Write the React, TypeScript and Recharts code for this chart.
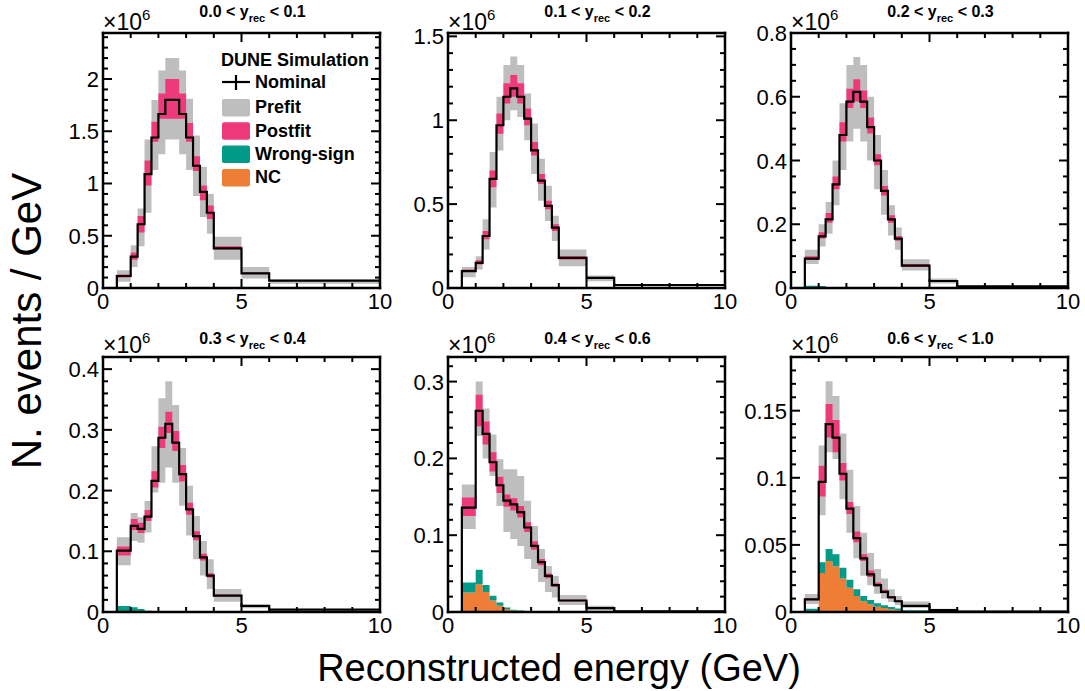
import React from "react";
import { ComposedChart, Area, Line, XAxis, YAxis } from "recharts";

// ---------- shared binning (GeV) ----------
const BIN_EDGES = [0, 0.5, 1.0, 1.25, 1.5, 1.75, 2.0, 2.25, 2.5, 2.75, 3.0, 3.25, 3.5, 3.75, 4.0, 5, 6, 10];
const X_TICKS = [0, 1, 2, 3, 4, 5, 6, 7, 8, 9, 10];
const X_MAJOR_STEP = 5;

// ---------- panel 1 : 0.0 < y < 0.1 (x10^6) ----------
const TITLE_1 = ["0.0", "0.1"];
const NOMINAL_1 = [0, 0.115, 0.30, 0.61, 1.09, 1.44, 1.665, 1.80, 1.80, 1.665, 1.44, 1.17, 0.92, 0.72, 0.38, 0.14, 0.07];
const PRE_LO_1 = [0, 0.06, 0.20, 0.40, 0.72, 1.13, 1.28, 1.42, 1.42, 1.28, 1.13, 0.88, 0.68, 0.52, 0.27, 0.09, 0.04];
const PRE_HI_1 = [0, 0.17, 0.41, 0.76, 1.42, 1.80, 2.08, 2.20, 2.20, 2.08, 1.81, 1.46, 1.16, 0.90, 0.49, 0.20, 0.08];
const POST_LO_1 = [0, 0.10, 0.27, 0.53, 0.98, 1.40, 1.62, 1.62, 1.62, 1.62, 1.40, 1.12, 0.84, 0.66, 0.37, 0.135, 0.068];
const POST_HI_1 = [0, 0.13, 0.34, 0.69, 1.22, 1.59, 1.86, 2.00, 2.00, 1.86, 1.58, 1.26, 0.98, 0.79, 0.40, 0.15, 0.072];
const NC_1 = [0, 0, 0, 0, 0, 0, 0, 0, 0, 0, 0, 0, 0, 0, 0, 0, 0];
const WS_1 = [0, 0.01, 0.005, 0, 0, 0, 0, 0, 0, 0, 0, 0, 0, 0, 0, 0, 0];

// ---------- panel 2 : 0.1 < y < 0.2 ----------
const TITLE_2 = ["0.1", "0.2"];
const NOMINAL_2 = [0, 0.10, 0.15, 0.31, 0.65, 0.97, 1.14, 1.19, 1.14, 1.01, 0.82, 0.64, 0.49, 0.36, 0.18, 0.06, 0.018];
const PRE_LO_2 = [0, 0.064, 0.11, 0.23, 0.48, 0.82, 1.00, 1.06, 1.02, 0.88, 0.68, 0.52, 0.40, 0.28, 0.13, 0.04, 0.01];
const PRE_HI_2 = [0, 0.125, 0.19, 0.41, 0.81, 1.14, 1.33, 1.38, 1.33, 1.16, 0.98, 0.77, 0.61, 0.43, 0.23, 0.075, 0.022];
const POST_LO_2 = [0, 0.095, 0.14, 0.29, 0.60, 0.92, 1.10, 1.14, 1.10, 0.97, 0.79, 0.62, 0.47, 0.34, 0.17, 0.057, 0.017];
const POST_HI_2 = [0, 0.11, 0.165, 0.34, 0.70, 1.04, 1.22, 1.27, 1.22, 1.07, 0.87, 0.68, 0.52, 0.38, 0.19, 0.063, 0.019];
const NC_2 = [0, 0, 0, 0, 0, 0, 0, 0, 0, 0, 0, 0, 0, 0, 0, 0, 0];
const WS_2 = [0, 0.006, 0.004, 0, 0, 0, 0, 0, 0, 0, 0, 0, 0, 0, 0, 0, 0];

// ---------- panel 3 : 0.2 < y < 0.3 ----------
const TITLE_3 = ["0.2", "0.3"];
const NOMINAL_3 = [0, 0.092, 0.162, 0.215, 0.325, 0.48, 0.585, 0.615, 0.585, 0.505, 0.40, 0.305, 0.215, 0.155, 0.07, 0.022, 0.005];
const PRE_LO_3 = [0, 0.075, 0.13, 0.17, 0.26, 0.37, 0.46, 0.50, 0.46, 0.40, 0.31, 0.23, 0.165, 0.12, 0.055, 0.014, 0.003];
const PRE_HI_3 = [0, 0.12, 0.20, 0.27, 0.40, 0.58, 0.70, 0.725, 0.70, 0.60, 0.48, 0.37, 0.26, 0.19, 0.09, 0.03, 0.007];
const POST_LO_3 = [0, 0.088, 0.155, 0.205, 0.31, 0.46, 0.565, 0.585, 0.565, 0.485, 0.385, 0.29, 0.205, 0.148, 0.067, 0.021, 0.0045];
const POST_HI_3 = [0, 0.10, 0.175, 0.235, 0.35, 0.52, 0.625, 0.655, 0.62, 0.535, 0.42, 0.32, 0.228, 0.163, 0.075, 0.023, 0.0055];
const NC_3 = [0, 0, 0, 0, 0, 0, 0, 0, 0, 0, 0, 0, 0, 0, 0, 0, 0];
const WS_3 = [0, 0.007, 0.006, 0.003, 0.001, 0, 0, 0, 0, 0, 0, 0, 0, 0, 0, 0, 0];

// ---------- panel 4 : 0.3 < y < 0.4 ----------
const TITLE_4 = ["0.3", "0.4"];
const NOMINAL_4 = [0, 0.101, 0.142, 0.137, 0.157, 0.216, 0.287, 0.31, 0.279, 0.227, 0.169, 0.125, 0.09, 0.06, 0.027, 0.01, 0.004];
const PRE_LO_4 = [0, 0.077, 0.117, 0.114, 0.131, 0.197, 0.213, 0.238, 0.213, 0.175, 0.126, 0.087, 0.06, 0.038, 0.017, 0.006, 0.003];
const PRE_HI_4 = [0, 0.123, 0.163, 0.156, 0.183, 0.273, 0.352, 0.38, 0.341, 0.27, 0.208, 0.158, 0.117, 0.087, 0.038, 0.012, 0.005];
const POST_LO_4 = [0, 0.093, 0.135, 0.130, 0.150, 0.205, 0.270, 0.295, 0.265, 0.215, 0.160, 0.118, 0.085, 0.057, 0.026, 0.0095, 0.0038];
const POST_HI_4 = [0, 0.108, 0.153, 0.147, 0.168, 0.232, 0.305, 0.33, 0.298, 0.242, 0.18, 0.133, 0.096, 0.064, 0.029, 0.011, 0.0043];
const NC_4 = [0, 0, 0, 0, 0, 0, 0, 0, 0, 0, 0, 0, 0, 0, 0, 0, 0];
const WS_4 = [0, 0.010, 0.008, 0.005, 0.002, 0.001, 0.0005, 0, 0, 0, 0, 0, 0, 0, 0, 0, 0];

// ---------- panel 5 : 0.4 < y < 0.6 ----------
const TITLE_5 = ["0.4", "0.6"];
const NOMINAL_5 = [0, 0.136, 0.262, 0.232, 0.195, 0.165, 0.145, 0.140, 0.130, 0.110, 0.086, 0.065, 0.047, 0.035, 0.015, 0.005, 0.001];
const PRE_LO_5 = [0, 0.108, 0.229, 0.20, 0.177, 0.138, 0.104, 0.095, 0.086, 0.069, 0.056, 0.039, 0.026, 0.019, 0.009, 0.002, 0.0005];
const PRE_HI_5 = [0, 0.166, 0.30, 0.265, 0.231, 0.199, 0.186, 0.186, 0.177, 0.145, 0.112, 0.082, 0.06, 0.047, 0.022, 0.008, 0.002];
const POST_LO_5 = [0, 0.125, 0.242, 0.218, 0.183, 0.155, 0.137, 0.132, 0.123, 0.104, 0.081, 0.061, 0.044, 0.033, 0.014, 0.0045, 0.0009];
const POST_HI_5 = [0, 0.149, 0.283, 0.248, 0.208, 0.176, 0.153, 0.148, 0.138, 0.117, 0.092, 0.069, 0.050, 0.037, 0.016, 0.0055, 0.0011];
const NC_5 = [0, 0.0255, 0.036, 0.026, 0.015, 0.008, 0.004, 0.002, 0.001, 0.0005, 0, 0, 0, 0, 0, 0, 0];
const WS_5 = [0, 0.013, 0.019, 0.009, 0.006, 0.0045, 0.002, 0.001, 0.0008, 0.0004, 0.0002, 0, 0, 0, 0, 0, 0];

// ---------- panel 6 : 0.6 < y < 1.0 ----------
const TITLE_6 = ["0.6", "1.0"];
const NOMINAL_6 = [0, 0.0094, 0.097, 0.140, 0.130, 0.103, 0.077, 0.055, 0.040, 0.028, 0.020, 0.015, 0.011, 0.008, 0.0045, 0.0015, 0.0003];
const PRE_LO_6 = [0, 0.006, 0.072, 0.119, 0.114, 0.084, 0.059, 0.040, 0.027, 0.020, 0.0136, 0.010, 0.0074, 0.005, 0.003, 0.0008, 0.0001];
const PRE_HI_6 = [0, 0.0135, 0.124, 0.172, 0.161, 0.133, 0.106, 0.079, 0.059, 0.044, 0.032, 0.025, 0.017, 0.012, 0.0079, 0.0025, 0.0005];
const POST_LO_6 = [0, 0.0088, 0.086, 0.130, 0.119, 0.098, 0.073, 0.052, 0.038, 0.026, 0.019, 0.014, 0.010, 0.0075, 0.0042, 0.0014, 0.00028];
const POST_HI_6 = [0, 0.0100, 0.109, 0.155, 0.143, 0.111, 0.082, 0.060, 0.043, 0.031, 0.022, 0.0165, 0.012, 0.0088, 0.0049, 0.0017, 0.00035];
const NC_6 = [0, 0, 0.029, 0.038, 0.034, 0.025, 0.018, 0.012, 0.008, 0.0055, 0.004, 0.003, 0.002, 0.0015, 0.0008, 0.0008, 0];
const WS_6 = [0, 0.0025, 0.008, 0.009, 0.009, 0.008, 0.006, 0.005, 0.004, 0.0035, 0.0025, 0.002, 0.0017, 0.0012, 0.0005, 0.0001, 0];

// ---------- axis settings per panel: [max, major step, minor step] ----------
const Y_AXIS_1 = [2.44, 0.5, 0.1];
const Y_AXIS_2 = [1.52, 0.5, 0.1];
const Y_AXIS_3 = [0.8, 0.2, 0.05];
const Y_AXIS_4 = [0.42, 0.1, 0.02];
const Y_AXIS_5 = [0.332, 0.1, 0.02];
const Y_AXIS_6 = [0.19, 0.05, 0.01];

// ---------- legend ----------
const LEGEND_HEADER = "DUNE Simulation";
const LEGEND_LABELS = ["Nominal", "Prefit", "Postfit", "Wrong-sign", "NC"];

// ---------- styles ----------
const FONT = '"Liberation Sans", Arial, Helvetica, sans-serif';
const C_PRE = "#bebebe";
const C_POST = "#ee3a7a";
const C_WS = "#009a88";
const C_NC = "#ee7e36";

const COL_LEFT = [103, 448, 791];
const ROW_TOP = [33, 357];
const PLOT_W = 277;
const PLOT_H = 255;
const Y_AXIS_W = 60;
const R_AXIS_W = 16;
const X_AXIS_H = 30;

type PanelDef = {
  title: string[];
  nominal: number[];
  preLo: number[];
  preHi: number[];
  postLo: number[];
  postHi: number[];
  nc: number[];
  ws: number[];
  yAxis: number[];
};

const PANELS: PanelDef[] = [
  { title: TITLE_1, nominal: NOMINAL_1, preLo: PRE_LO_1, preHi: PRE_HI_1, postLo: POST_LO_1, postHi: POST_HI_1, nc: NC_1, ws: WS_1, yAxis: Y_AXIS_1 },
  { title: TITLE_2, nominal: NOMINAL_2, preLo: PRE_LO_2, preHi: PRE_HI_2, postLo: POST_LO_2, postHi: POST_HI_2, nc: NC_2, ws: WS_2, yAxis: Y_AXIS_2 },
  { title: TITLE_3, nominal: NOMINAL_3, preLo: PRE_LO_3, preHi: PRE_HI_3, postLo: POST_LO_3, postHi: POST_HI_3, nc: NC_3, ws: WS_3, yAxis: Y_AXIS_3 },
  { title: TITLE_4, nominal: NOMINAL_4, preLo: PRE_LO_4, preHi: PRE_HI_4, postLo: POST_LO_4, postHi: POST_HI_4, nc: NC_4, ws: WS_4, yAxis: Y_AXIS_4 },
  { title: TITLE_5, nominal: NOMINAL_5, preLo: PRE_LO_5, preHi: PRE_HI_5, postLo: POST_LO_5, postHi: POST_HI_5, nc: NC_5, ws: WS_5, yAxis: Y_AXIS_5 },
  { title: TITLE_6, nominal: NOMINAL_6, preLo: PRE_LO_6, preHi: PRE_HI_6, postLo: POST_LO_6, postHi: POST_HI_6, nc: NC_6, ws: WS_6, yAxis: Y_AXIS_6 },
];

function buildRows(p: PanelDef) {
  const rows: any[] = [];
  const nBins = p.nominal.length;
  for (let i = 0; i < BIN_EDGES.length; i++) {
    const j = Math.min(i, nBins - 1);
    rows.push({
      x: BIN_EDGES[i],
      nom: p.nominal[j],
      pre: [p.preLo[j], p.preHi[j]],
      post: [p.postLo[j], p.postHi[j]],
      nc: p.nc[j],
      ws: p.ws[j],
    });
  }
  return rows;
}

function tickList(step: number, max: number) {
  const out: number[] = [];
  for (let k = 0; k * step <= max + 1e-9; k++) out.push(Number((k * step).toFixed(5)));
  return out;
}

const isMultiple = (v: number, step: number) => Math.abs(v / step - Math.round(v / step)) < 1e-6;
const fmt = (v: number) => String(Number(v.toFixed(4)));

const MAJOR_LEN = 9;
const MINOR_LEN = 5;

const BottomTick = (props: any) => {
  const { x, y, payload } = props;
  const v = payload.value;
  const major = isMultiple(v, X_MAJOR_STEP);
  return (
    <g>
      <line x1={x} x2={x} y1={y} y2={y - (major ? MAJOR_LEN : MINOR_LEN)} stroke="#000" strokeWidth={2} />
      {major && (
        <text x={x} y={y + 21} textAnchor="middle" fontSize={22} fontFamily={FONT} fill="#000">
          {fmt(v)}
        </text>
      )}
    </g>
  );
};

const TopTick = (props: any) => {
  const { x, y, payload } = props;
  const major = isMultiple(payload.value, X_MAJOR_STEP);
  return <line x1={x} x2={x} y1={y} y2={y + (major ? MAJOR_LEN : MINOR_LEN)} stroke="#000" strokeWidth={2} />;
};

const makeLeftTick = (majorStep: number) => (props: any) => {
  const { x, y, payload } = props;
  const v = payload.value;
  const major = isMultiple(v, majorStep);
  return (
    <g>
      <line x1={x} x2={x + (major ? MAJOR_LEN : MINOR_LEN)} y1={y} y2={y} stroke="#000" strokeWidth={2} />
      {major && (
        <text x={x - 4} y={y + 8} textAnchor="end" fontSize={22} fontFamily={FONT} fill="#000">
          {fmt(v)}
        </text>
      )}
    </g>
  );
};

const makeRightTick = (majorStep: number) => (props: any) => {
  const { x, y, payload } = props;
  const major = isMultiple(payload.value, majorStep);
  return <line x1={x} x2={x - (major ? MAJOR_LEN : MINOR_LEN)} y1={y} y2={y} stroke="#000" strokeWidth={2} />;
};

const AXIS_LINE = { stroke: "#000", strokeWidth: 2.5, strokeLinecap: "square" as const };

function Panel({ p, idx }: { p: PanelDef; idx: number }) {
  const col = idx % 3;
  const row = Math.floor(idx / 3);
  const left = COL_LEFT[col];
  const top = ROW_TOP[row];
  const [yMax, yMajor, yMinor] = p.yAxis;
  const yTicks = tickList(yMinor, yMax);
  const rows = buildRows(p);
  return (
    <div style={{ position: "absolute", left: left - Y_AXIS_W, top: top - X_AXIS_H }}>
      <ComposedChart
        width={PLOT_W + Y_AXIS_W + R_AXIS_W}
        height={PLOT_H + 2 * X_AXIS_H}
        data={rows}
        margin={{ top: 0, right: 0, bottom: 0, left: 0 }}
        style={{ overflow: "visible" }}
      >
        <XAxis
          xAxisId="b"
          dataKey="x"
          type="number"
          domain={[0, 10]}
          ticks={X_TICKS}
          interval={0}
          allowDataOverflow
          tickSize={0}
          tickMargin={0}
          tickLine={false}
          axisLine={AXIS_LINE}
          tick={BottomTick}
          height={X_AXIS_H}
        />
        <XAxis
          xAxisId="t"
          orientation="top"
          dataKey="x"
          type="number"
          domain={[0, 10]}
          ticks={X_TICKS}
          interval={0}
          allowDataOverflow
          tickSize={0}
          tickMargin={0}
          tickLine={false}
          axisLine={AXIS_LINE}
          tick={TopTick}
          height={X_AXIS_H}
        />
        <YAxis
          yAxisId="l"
          type="number"
          domain={[0, yMax]}
          ticks={yTicks}
          interval={0}
          allowDataOverflow
          tickSize={0}
          tickMargin={0}
          tickLine={false}
          axisLine={AXIS_LINE}
          tick={makeLeftTick(yMajor)}
          width={Y_AXIS_W}
        />
        <YAxis
          yAxisId="r"
          orientation="right"
          type="number"
          domain={[0, yMax]}
          ticks={yTicks}
          interval={0}
          allowDataOverflow
          tickSize={0}
          tickMargin={0}
          tickLine={false}
          axisLine={AXIS_LINE}
          tick={makeRightTick(yMajor)}
          width={R_AXIS_W}
        />
        <Area
          xAxisId="b"
          yAxisId="l"
          type="stepAfter"
          dataKey="pre"
          fill={C_PRE}
          fillOpacity={1}
          stroke="none"
          dot={false}
          activeDot={false}
          isAnimationActive={false}
        />
        <Area
          xAxisId="b"
          yAxisId="l"
          type="stepAfter"
          dataKey="post"
          fill={C_POST}
          fillOpacity={1}
          stroke="none"
          dot={false}
          activeDot={false}
          isAnimationActive={false}
        />
        <Area
          xAxisId="b"
          yAxisId="l"
          type="stepAfter"
          dataKey="nc"
          stackId="bkg"
          fill={C_NC}
          fillOpacity={1}
          stroke="none"
          dot={false}
          activeDot={false}
          isAnimationActive={false}
        />
        <Area
          xAxisId="b"
          yAxisId="l"
          type="stepAfter"
          dataKey="ws"
          stackId="bkg"
          fill={C_WS}
          fillOpacity={1}
          stroke="none"
          dot={false}
          activeDot={false}
          isAnimationActive={false}
        />
        <Line
          xAxisId="b"
          yAxisId="l"
          type="stepAfter"
          dataKey="nom"
          stroke="#000"
          strokeWidth={2.2}
          dot={false}
          activeDot={false}
          isAnimationActive={false}
        />
      </ComposedChart>
    </div>
  );
}

function Overlay() {
  const titleBase = [17, 344];
  const expBase = [30, 353];
  const legX = 222;
  const legSwatchColors = [C_PRE, C_POST, C_WS, C_NC];
  return (
    <svg
      width={1085}
      height={691}
      style={{ position: "absolute", left: 0, top: 0, pointerEvents: "none" }}
      fontFamily={FONT}
    >
      {PANELS.map((p, idx) => {
        const col = idx % 3;
        const row = Math.floor(idx / 3);
        const left = COL_LEFT[col];
        const cx = left + PLOT_W / 2 + 11;
        return (
          <g key={idx}>
            <text x={cx} y={titleBase[row]} textAnchor="middle" fontSize={16} fontWeight="bold" fill="#000">
              {p.title[0] + " < y"}
              <tspan fontSize={11} dy={5}>rec</tspan>
              <tspan fontSize={16} dy={-5}>{" < " + p.title[1]}</tspan>
            </text>
            <text x={left} y={expBase[row]} fontSize={23} fill="#000">
              ×10
              <tspan fontSize={15} dy={-10}>6</tspan>
            </text>
          </g>
        );
      })}

      {/* legend (panel 1) */}
      <text x={legX - 1} y={65.5} fontSize={18} fontWeight="bold" fill="#000">
        {LEGEND_HEADER}
      </text>
      <line x1={legX} x2={legX + 28} y1={82} y2={82} stroke="#000" strokeWidth={2.2} />
      <line x1={legX + 14} x2={legX + 14} y1={75} y2={90} stroke="#000" strokeWidth={2.2} />
      <text x={255} y={88.3} fontSize={18} fontWeight="bold" fill="#000">
        {LEGEND_LABELS[0]}
      </text>
      {legSwatchColors.map((c, i) => (
        <g key={i}>
          <rect x={legX} y={99 + i * 23.3} width={28} height={17.5} rx={2} fill={c} />
          <text x={255} y={113.3 + i * 23.3} fontSize={18} fontWeight="bold" fill="#000">
            {LEGEND_LABELS[i + 1]}
          </text>
        </g>
      ))}

      {/* axis titles */}
      <text
        x={0}
        y={0}
        transform="translate(41,321) rotate(-90)"
        textAnchor="middle"
        fontSize={42}
        fill="#000"
      >
        N. events / GeV
      </text>
      <text x={559} y={681} textAnchor="middle" fontSize={38} fill="#000">
        Reconstructed energy (GeV)
      </text>
    </svg>
  );
}

export default function App() {
  return (
    <div style={{ position: "absolute", left: 0, top: 0, width: 1085, height: 691, background: "#fff" }}>
      {PANELS.map((p, idx) => (
        <Panel key={idx} p={p} idx={idx} />
      ))}
      <Overlay />
    </div>
  );
}
